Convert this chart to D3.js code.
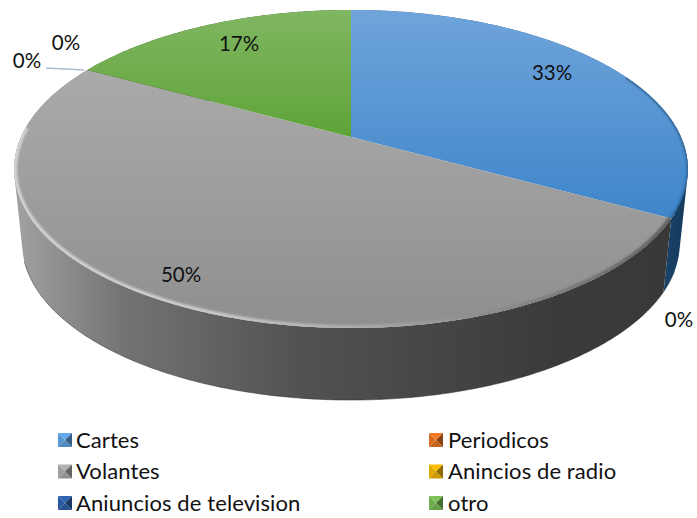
<!DOCTYPE html>
<html>
<head>
<meta charset="utf-8">
<script src="https://cdnjs.cloudflare.com/ajax/libs/d3/7.9.0/d3.min.js"></script>
<style>
html,body{margin:0;padding:0;background:#fff}
svg{display:block}
text{font-family:Lato,"Open Sans",sans-serif;fill:#111}
</style>
</head>
<body>
<svg id="c" width="697" height="518"></svg>
<script>
const categories = ["Cartes","Periodicos","Volantes","Anincios de radio","Aniuncios de television","otro"];
const values = [33,0,50,0,0,17];
const faceTop = ["#6fa4db","#ed7d31","#aaaaaa","#ffc000","#2f5fa8","#80b762"];
const faceBottom = ["#3f86ca","#c55a11","#8f8f8f","#bf9000","#264f94","#5fa338"];
const wallLeft = ["#275a88","#843c0c","#a2a2a2","#7f6000","#1a2c50","#375623"];
const wallRight = ["#143a5c","#843c0c","#383838","#7f6000","#1a2c50","#375623"];
const labelSpots = [[552,73],[679,320],[181,275],[27,61],[66,43],[239,44]];

const svg=d3.select("#c");
const defs=svg.append("defs");

const hub={x:351,y:137},k=0.2013,B=152.6,A=330;
const project=a=>{const x=Math.sin(a),y=Math.cos(a),w=1+k*y;return [hub.x+A*x/w,hub.y-B*y/w];};
const lower=p=>[351+(p[0]-351)*0.976,400+(p[1]-328)*0.987];
const pie=d3.pie().sort(null).value(d=>d).startAngle(0).endAngle(2*Math.PI);
const arcs=pie(values);
const total=d3.sum(values);
const sweep=(a0,a1)=>{const n=Math.max(2,Math.ceil((a1-a0)/0.01));return d3.range(n+1).map(i=>a0+(a1-a0)*i/n);};
const line=d3.line();
const fullRim=sweep(0,2*Math.PI).map(project);

defs.append("clipPath").attr("id","faceClip").append("path").attr("d",line(fullRim)+"Z");
defs.append("filter").attr("id","soft").attr("x","-10%").attr("y","-10%").attr("width","120%").attr("height","120%")
  .append("feGaussianBlur").attr("stdDeviation",1);

arcs.forEach((d,i)=>{
  const w=defs.append("linearGradient").attr("id","wall"+i).attr("gradientUnits","userSpaceOnUse")
    .attr("x1",i===0?600:14).attr("x2",688).attr("y1",0).attr("y2",0);
  w.append("stop").attr("offset",0).attr("stop-color",wallLeft[i]);
  if(i===2){
    w.append("stop").attr("offset",0.16).attr("stop-color","#747474");
    w.append("stop").attr("offset",0.42).attr("stop-color","#525252");
    w.append("stop").attr("offset",0.8).attr("stop-color","#3b3b3b");
  }
  w.append("stop").attr("offset",1).attr("stop-color",wallRight[i]);
  const f=defs.append("linearGradient").attr("id","face"+i).attr("gradientUnits","userSpaceOnUse")
    .attr("x1",0).attr("x2",0).attr("y1",i===2?70:10).attr("y2",i===5?137:(i===2?328:215));
  f.append("stop").attr("offset",0).attr("stop-color",faceTop[i]);
  f.append("stop").attr("offset",1).attr("stop-color",faceBottom[i]);
});
const grayBevel=defs.append("linearGradient").attr("id","grayBevel").attr("gradientUnits","userSpaceOnUse")
  .attr("x1",14).attr("x2",668).attr("y1",0).attr("y2",0);
[[0,"#d4d4d4"],[0.3,"#cbcbcb"],[0.55,"#a8a8a8"],[0.8,"#808080"],[1,"#5e5e5e"]].forEach(s=>
  grayBevel.append("stop").attr("offset",s[0]).attr("stop-color",s[1]));

// walls: one path per slice, made of same-winding quads so their union has no seams
const wallG=svg.append("g");
arcs.forEach((d,i)=>{
  if(d.endAngle<=d.startAngle)return;
  const quads=d3.pairs(sweep(d.startAngle,d.endAngle)).map(([a,b])=>{
    const p=project(a),q=project(b);
    const poly=[p,q,lower(q),lower(p)];
    return line(d3.polygonArea(poly)<0?poly.reverse():poly)+"Z";
  });
  wallG.append("path").attr("d",quads.join("")).attr("fill-rule","nonzero").attr("fill",`url(#wall${i})`);
});
wallG.append("path")
  .attr("d",line(sweep(Math.PI*0.62,Math.PI*1.4).map(project).map(lower)))
  .attr("fill","none").attr("stroke","#2b2b2b").attr("stroke-width",1).attr("opacity",0.5);

// faces
const faceG=svg.append("g");
arcs.forEach((d,i)=>{
  if(d.endAngle<=d.startAngle)return;
  const rim=sweep(d.startAngle,d.endAngle).map(project);
  faceG.append("path").attr("d",line([[hub.x,hub.y]].concat(rim))+"Z").attr("fill",`url(#face${i})`);
});

// bevel along the front of the rim only
const bevelG=svg.append("g").attr("clip-path","url(#faceClip)");
const grayArc=arcs[2], blueArc=arcs[0];
bevelG.append("path").attr("d",line(sweep(grayArc.startAngle,Math.PI*1.52).map(project)))
  .attr("fill","none").attr("stroke","url(#grayBevel)").attr("stroke-width",6).attr("filter","url(#soft)");
bevelG.append("path").attr("d",line(sweep(Math.PI*0.36,blueArc.endAngle).map(project)))
  .attr("fill","none").attr("stroke","#2d5f8e").attr("stroke-width",2.6).attr("filter","url(#soft)");

// leader line for a zero slice
svg.append("path").attr("d",line([[46,68],[84,70]])).attr("fill","none").attr("stroke","#a9bcd2").attr("stroke-width",1.3);

// data labels
arcs.forEach((d,i)=>{
  svg.append("text").attr("x",labelSpots[i][0]).attr("y",labelSpots[i][1]).attr("dy","0.36em")
    .attr("text-anchor","middle").attr("font-size",20.5)
    .text(d3.format(".0%")(d.value/total));
});

// legend
const col=d3.scaleOrdinal().domain([0,1]).range([58,429]);
const row=d3.scalePoint().domain([0,1,2]).range([440,503]);
const S=14;
categories.forEach((name,i)=>{
  const x=col(i%2),y=row(Math.floor(i/2));
  const g=svg.append("g").attr("transform",`translate(${x},${y-S/2})`);
  const base=d3.color(d3.interpolateRgb(faceTop[i],faceBottom[i])(0.5));
  const c=[S/2,S/2];
  const tri=(pts,fill)=>g.append("path").attr("d",line(pts)+"Z").attr("fill",fill);
  tri([[0,0],[S,0],c],base.brighter(0.35));
  tri([[0,0],c,[0,S]],base);
  tri([[S,0],[S,S],c],base.darker(1.3));
  tri([[0,S],[S,S],c],base.darker(0.25));
  svg.append("text").attr("x",x+18+(i%2)).attr("y",y).attr("dy","0.36em")
    .attr("font-size",22).attr("letter-spacing",0.1).text(name);
});
</script>
</body>
</html>
